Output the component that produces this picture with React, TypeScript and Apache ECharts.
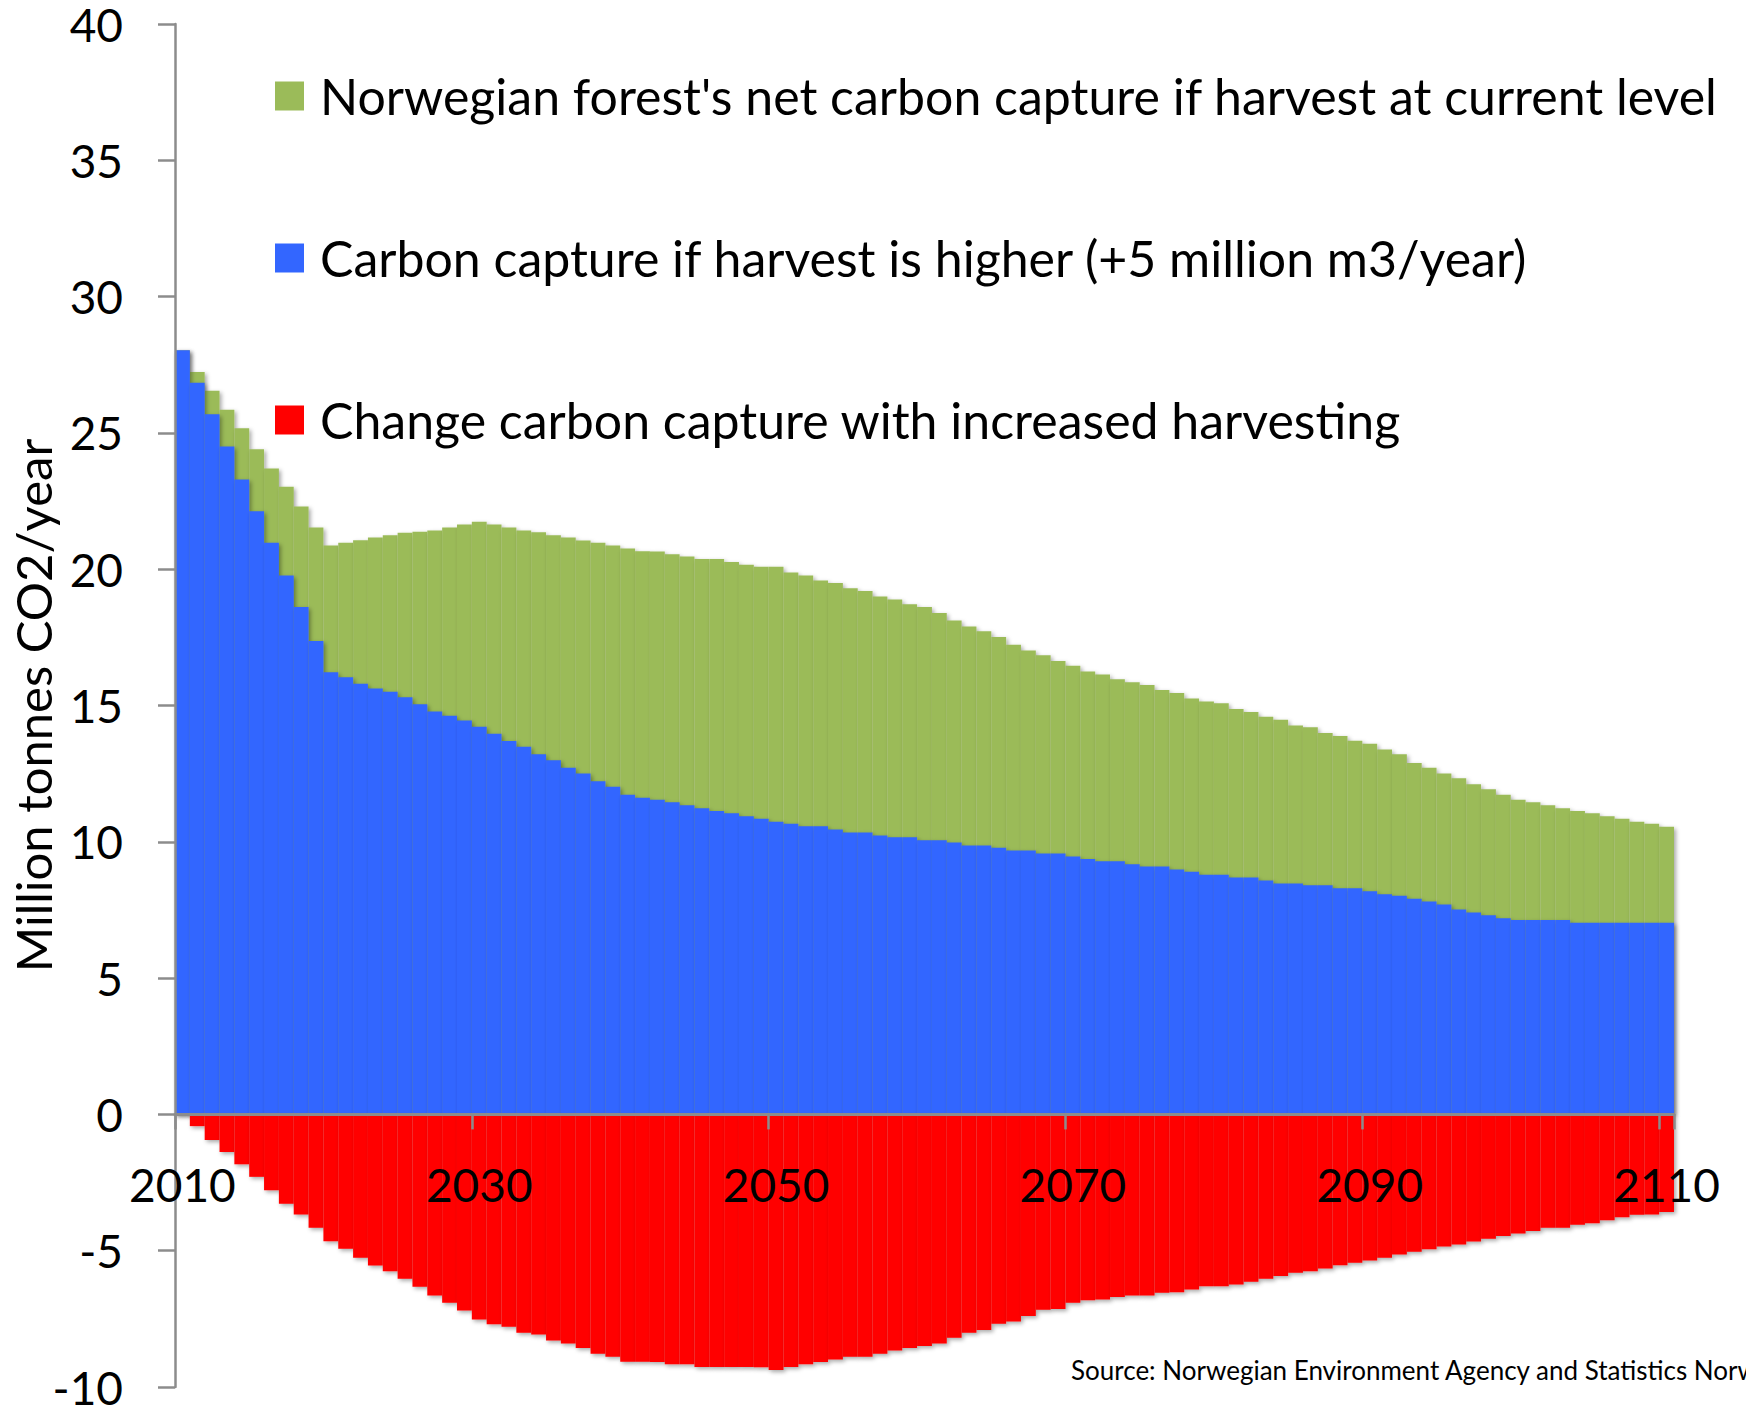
import React, { useEffect, useRef } from "react";
import * as echarts from "echarts";

const firstYear = 2010;
const lastYear = 2110;
const years: string[] = [];
for (let y = firstYear; y <= lastYear; y++) years.push(String(y));

const seriesNames = [
  "Norwegian forest's net carbon capture if harvest at current level",
  "Carbon capture if harvest is higher (+5 million m3/year)",
  "Change carbon capture with increased harvesting",
];

// Million tonnes CO2/year, one value per year 2010..2110
const currentHarvest = [
  28.03, 27.23, 26.55, 25.85, 25.17, 24.4, 23.69, 23.02, 22.3, 21.53,
  20.87, 20.97, 21.06, 21.16, 21.25, 21.34, 21.37, 21.42, 21.53, 21.64,
  21.74, 21.64, 21.53, 21.42, 21.36, 21.25, 21.16, 21.05, 20.97, 20.87,
  20.76, 20.66, 20.65, 20.55, 20.47, 20.37, 20.37, 20.26, 20.16, 20.09,
  20.09, 19.88, 19.77, 19.59, 19.49, 19.3, 19.2, 19.0, 18.89, 18.71,
  18.61, 18.39, 18.12, 17.9, 17.72, 17.51, 17.23, 17.02, 16.84, 16.63,
  16.46, 16.25, 16.14, 15.96, 15.85, 15.75, 15.57, 15.46, 15.26, 15.15,
  15.08, 14.87, 14.76, 14.59, 14.48, 14.27, 14.2, 13.99, 13.88, 13.71,
  13.6, 13.39, 13.21, 12.89, 12.72, 12.51, 12.33, 12.11, 11.93, 11.73,
  11.54, 11.45, 11.34, 11.23, 11.13, 11.05, 10.94, 10.85, 10.74, 10.66,
  10.55,
];

const higherHarvest = [
  28.03, 26.84, 25.68, 24.5, 23.29, 22.13, 20.97, 19.77, 18.61, 17.37,
  16.22, 16.04, 15.8, 15.62, 15.5, 15.3, 15.05, 14.78, 14.62, 14.45,
  14.22, 13.96, 13.7, 13.49, 13.21, 12.99, 12.72, 12.51, 12.22, 12.02,
  11.73, 11.62, 11.54, 11.45, 11.34, 11.23, 11.13, 11.05, 10.94, 10.85,
  10.74, 10.66, 10.57, 10.57, 10.45, 10.34, 10.34, 10.23, 10.17, 10.17,
  10.06, 10.06, 9.97, 9.86, 9.86, 9.78, 9.68, 9.68, 9.57, 9.57,
  9.46, 9.37, 9.29, 9.29, 9.18, 9.09, 9.09, 8.98, 8.9, 8.79,
  8.79, 8.69, 8.69, 8.58, 8.47, 8.47, 8.41, 8.41, 8.3, 8.3,
  8.19, 8.08, 8.02, 7.91, 7.81, 7.7, 7.52, 7.41, 7.31, 7.2,
  7.13, 7.13, 7.13, 7.13, 7.03, 7.03, 7.03, 7.03, 7.03, 7.03,
  7.03,
];

const changeCapture = [
  0, -0.43, -0.94, -1.38, -1.83, -2.29, -2.78, -3.28, -3.67, -4.16,
  -4.65, -4.93, -5.26, -5.54, -5.75, -6.03, -6.32, -6.64, -6.91, -7.19,
  -7.52, -7.7, -7.79, -8.01, -8.07, -8.29, -8.4, -8.57, -8.78, -8.89,
  -9.07, -9.07, -9.08, -9.17, -9.17, -9.27, -9.27, -9.27, -9.27, -9.28,
  -9.38, -9.27, -9.17, -9.08, -8.99, -8.89, -8.89, -8.78, -8.66, -8.57,
  -8.5, -8.4, -8.19, -8.01, -7.91, -7.68, -7.6, -7.4, -7.17, -7.14,
  -6.91, -6.82, -6.79, -6.7, -6.64, -6.64, -6.54, -6.52, -6.42, -6.3,
  -6.3, -6.24, -6.14, -6.03, -5.93, -5.81, -5.75, -5.65, -5.53, -5.44,
  -5.36, -5.26, -5.14, -5.04, -4.95, -4.85, -4.77, -4.66, -4.56, -4.46,
  -4.37, -4.28, -4.16, -4.16, -4.05, -3.99, -3.88, -3.77, -3.68, -3.67,
  -3.58,
];

const colors = ["#9BBB59", "#3366FF", "#FF0000"];
const yMin = -10;
const yMax = 40;
const yInterval = 5;
const sourceText = "Source: Norwegian Environment Agency and Statistics Norway";

const FONT = "Lato, 'Open Sans', sans-serif";
const GREY = "#8c8c8c";

const CHART_W = 1746;
const CHART_H = 1411;
const GRID_TOP = 24;
const GRID_BOTTOM = 24;

export default function App() {
  const ref = useRef<HTMLDivElement>(null);

  useEffect(() => {
    if (!ref.current) return;
    const chart = echarts.init(ref.current, undefined, { renderer: "svg" });

    const shadow = {
      shadowBlur: 4,
      shadowColor: "rgba(0,0,0,0.35)",
      shadowOffsetX: 2,
      shadowOffsetY: 2,
    };

    // place the category axis on the value 0 of the value axis
    const plotH = CHART_H - GRID_TOP - GRID_BOTTOM;
    const zeroOffset = -(plotH * (0 - yMin)) / (yMax - yMin);

    const legendCenters = [96, 258, 420];
    const legendBoxH = 54;

    const option: any = {
      animation: false,
      backgroundColor: "#ffffff",
      textStyle: { fontFamily: FONT },
      grid: {
        left: 175,
        right: 72,
        top: GRID_TOP,
        bottom: GRID_BOTTOM,
        containLabel: false,
        outerBoundsMode: "none",
      },
      legend: seriesNames.map((name, i) => ({
        data: [name],
        left: 275,
        top: legendCenters[i] - legendBoxH / 2,
        padding: 0,
        orient: "horizontal",
        itemWidth: 29,
        itemHeight: 29,
        icon: "rect",
        selectedMode: false,
        itemStyle: { shadowBlur: 0, shadowOffsetX: 0, shadowOffsetY: 0 },
        textStyle: {
          fontSize: 50,
          fontFamily: FONT,
          color: "#000",
          lineHeight: legendBoxH,
          padding: [0, 0, 0, 11],
        },
      })),
      xAxis: {
        type: "category",
        data: years,
        position: "bottom",
        offset: zeroOffset,
        z: 10,
        axisLine: { onZero: false, lineStyle: { color: GREY, width: 3 } },
        axisTick: {
          show: true,
          interval: 19,
          length: 15,
          lineStyle: { color: GREY, width: 2.5 },
        },
        axisLabel: {
          interval: 19,
          margin: 47,
          fontSize: 46,
          lineHeight: 46,
          fontFamily: FONT,
          color: "#000",
        },
        splitLine: { show: false },
      },
      yAxis: {
        type: "value",
        min: yMin,
        max: yMax,
        interval: yInterval,
        z: 10,
        axisLine: { show: true, lineStyle: { color: GREY, width: 2.5 } },
        axisTick: { show: true, length: 17, lineStyle: { color: GREY, width: 2.5 } },
        axisLabel: {
          margin: 52,
          fontSize: 46,
          lineHeight: 40,
          fontFamily: FONT,
          color: "#000",
        },
        splitLine: { show: false },
        name: "Million tonnes CO2/year",
        nameLocation: "middle",
        nameGap: 118,
        nameMoveOverlap: false,
        nameTextStyle: { fontSize: 49, lineHeight: 49, fontFamily: FONT, color: "#000" },
      },
      series: [
        {
          type: "bar",
          name: seriesNames[0],
          data: currentHarvest,
          barGap: "-100%",
          barCategoryGap: "0%",
          itemStyle: { color: colors[0], ...shadow },
        },
        {
          type: "bar",
          name: seriesNames[1],
          data: higherHarvest,
          barGap: "-100%",
          barCategoryGap: "0%",
          itemStyle: { color: colors[1], ...shadow },
        },
        {
          type: "bar",
          name: seriesNames[2],
          data: changeCapture,
          barGap: "-100%",
          barCategoryGap: "0%",
          itemStyle: { color: colors[2], ...shadow },
        },
      ],
      graphic: [
        {
          type: "text",
          left: 1071,
          top: 1357,
          z: 20,
          style: { text: sourceText, font: `26px ${FONT}`, fill: "#000" },
        },
      ],
    };

    chart.setOption(option);
    return () => chart.dispose();
  }, []);

  return (
    <div
      ref={ref}
      style={{ position: "absolute", left: 0, top: 0, width: CHART_W, height: CHART_H }}
    />
  );
}
